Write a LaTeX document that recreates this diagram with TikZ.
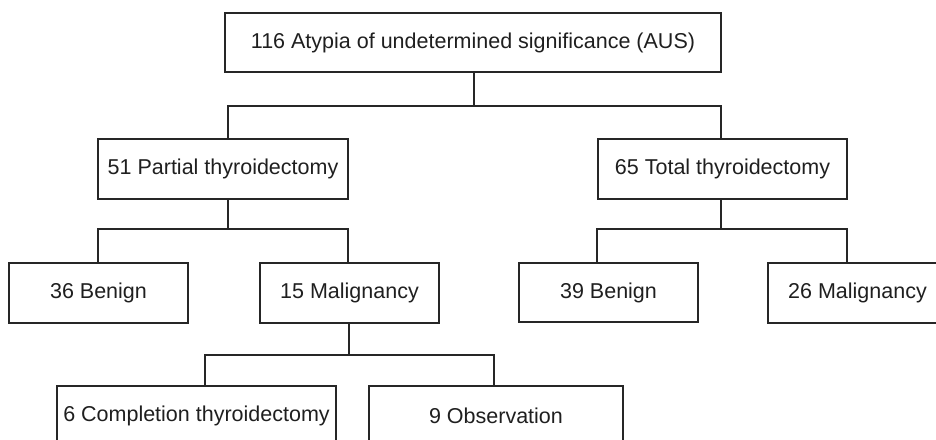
\documentclass[tikz,border=0pt]{standalone}
\usepackage{fontspec}
\setmainfont{Liberation Sans}
\begin{document}
\begin{tikzpicture}[x=1pt,y=-1pt,
  box/.style={draw=black!85,line width=1.4pt,rectangle,inner sep=0pt,
    text=black!88,font=\fontsize{21.5}{24}\selectfont},
  conn/.style={draw=black!85,line width=1.4pt}]
\useasboundingbox (0,0) rectangle (936,439);
\clip (0,0) rectangle (936,439);
\node[box,minimum width=496pt,minimum height=59pt] (top) at (473,42.5) {116 Atypia of undetermined significance (AUS)};
\node[box,minimum width=250pt,minimum height=60pt] (pa) at (223,169) {51 Partial thyroidectomy};
\node[box,minimum width=249pt,minimum height=60pt] (to) at (722.5,169) {65 Total thyroidectomy};
\node[box,minimum width=179pt,minimum height=60pt] (b1) at (98.5,293) {36 Benign};
\node[box,minimum width=179pt,minimum height=60pt] (m1) at (349.5,293) {15 Malignancy};
\node[box,minimum width=179pt,minimum height=59pt] (b2) at (608.5,292.5) {39 Benign};
\node[box,minimum width=179pt,minimum height=60pt] (m2) at (857.5,293) {26 Malignancy};
\node[box,minimum width=279pt,minimum height=60pt] (co) at (196.5,416) {6 Completion thyroidectomy};
\node[box,minimum width=254pt,minimum height=60pt] (ob) at (496,416) {9 Observation};
% junctions
\coordinate (j0) at (474,106);
\coordinate (j0l) at (228,106);
\coordinate (j0r) at (721,106);
\coordinate (j1) at (228,229);
\coordinate (j1l) at (98,229);
\coordinate (j1r) at (348,229);
\coordinate (j2) at (721,229);
\coordinate (j2l) at (597,229);
\coordinate (j2r) at (847,229);
\coordinate (j3) at (349,355);
\coordinate (j3l) at (205,355);
\coordinate (j3r) at (494,355);
\draw[conn] (top.south -| j0) -- (j0);
\draw[conn] (pa.north -| j0l) -- (j0l) -- (j0r) -- (to.north -| j0r);
\draw[conn] (pa.south -| j1) -- (j1);
\draw[conn] (b1.north -| j1l) -- (j1l) -- (j1r) -- (m1.north -| j1r);
\draw[conn] (to.south -| j2) -- (j2);
\draw[conn] (b2.north -| j2l) -- (j2l) -- (j2r) -- (m2.north -| j2r);
\draw[conn] (m1.south -| j3) -- (j3);
\draw[conn] (co.north -| j3l) -- (j3l) -- (j3r) -- (ob.north -| j3r);
\end{tikzpicture}
\end{document}
